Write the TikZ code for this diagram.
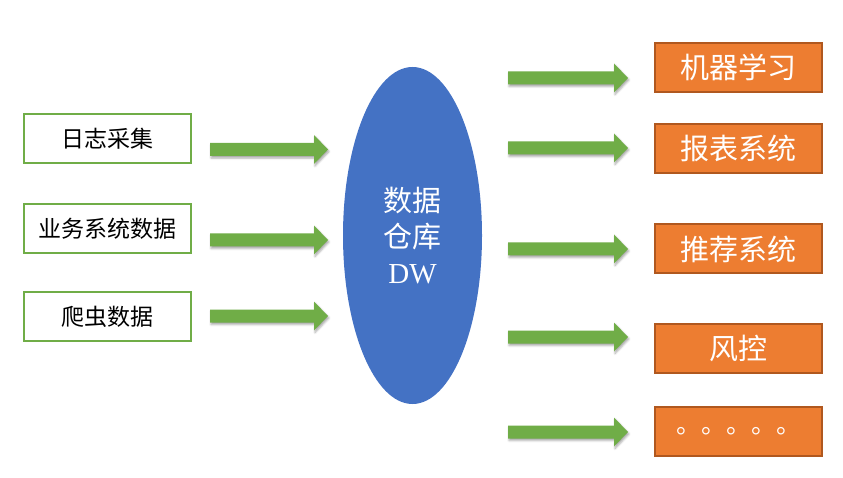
\documentclass[tikz,border=0pt]{standalone}
\usepackage{fontspec}
\newfontfamily\cjk{Noto Sans CJK SC}
\newfontfamily\dwfont{Liberation Serif}
\usetikzlibrary{shapes.geometric,shadows.blur}
\definecolor{gA}{HTML}{70AD47}
\definecolor{bA}{HTML}{4472C4}
\definecolor{oA}{HTML}{ED7D31}
\definecolor{oB}{HTML}{B0581F}
\tikzset{
  lbox/.style={draw=gA, line width=2pt, fill=white, minimum width=167pt, minimum height=49pt, inner sep=0pt,
    font=\cjk\fontsize{23pt}{28pt}\selectfont, text=black},
  rbox/.style={draw=oB, line width=2pt, fill=oA, minimum width=167pt, minimum height=49pt, inner sep=0pt,
    font=\cjk\fontsize{29pt}{34pt}\selectfont, text=white},
  dw/.style={ellipse, fill=bA, minimum width=139pt, minimum height=337pt, inner sep=0pt, align=center,
    text=white, font=\cjk\fontsize{29pt}{36pt}\selectfont},
  pics/garrow/.style={code={
    \fill[gA, blur shadow={shadow xshift=1pt, shadow yshift=-2pt, shadow blur radius=2pt, shadow opacity=35}]
      (0,-6.5) -- ({#1-14},-6.5) -- ({#1-14},-14.5) -- (#1,0) -- ({#1-14},14.5) -- ({#1-14},6.5) -- (0,6.5) -- cycle;}}
}
\begin{document}
\begin{tikzpicture}[x=1pt,y=-1pt]
\useasboundingbox (0,0) rectangle (843,478);
% left sources
\node[lbox] (log) at (107.5,138.5) {日志采集};
\node[lbox] (biz) at (107.5,228.5) {业务系统数据};
\node[lbox] (crawl) at (107.5,316.5) {爬虫数据};
% left arrows
\pic at (210,149.5) {garrow=118};
\pic at (210,240) {garrow=118};
\pic at (210,316) {garrow=118};
% warehouse
\node[dw] (dwh) at (412.5,235.5) {数据\\仓库\\{\dwfont DW}};
% right arrows
\pic at (508,78) {garrow=120};
\pic at (508,148) {garrow=120};
\pic at (508,249) {garrow=120};
\pic at (508,337) {garrow=120};
\pic at (508,432) {garrow=120};
% targets
\node[rbox] (ml) at (738.5,67.5) {机器学习};
\node[rbox] (rep) at (738.5,148.5) {报表系统};
\node[rbox] (rec) at (738.5,249) {推荐系统};
\node[rbox] (risk) at (738.5,348.5) {风控};
\node[rbox] (more) at (738.5,431.5) {\fontsize{25pt}{28pt}\selectfont\raisebox{-4pt}{。。。。。}};
\end{tikzpicture}
\end{document}
